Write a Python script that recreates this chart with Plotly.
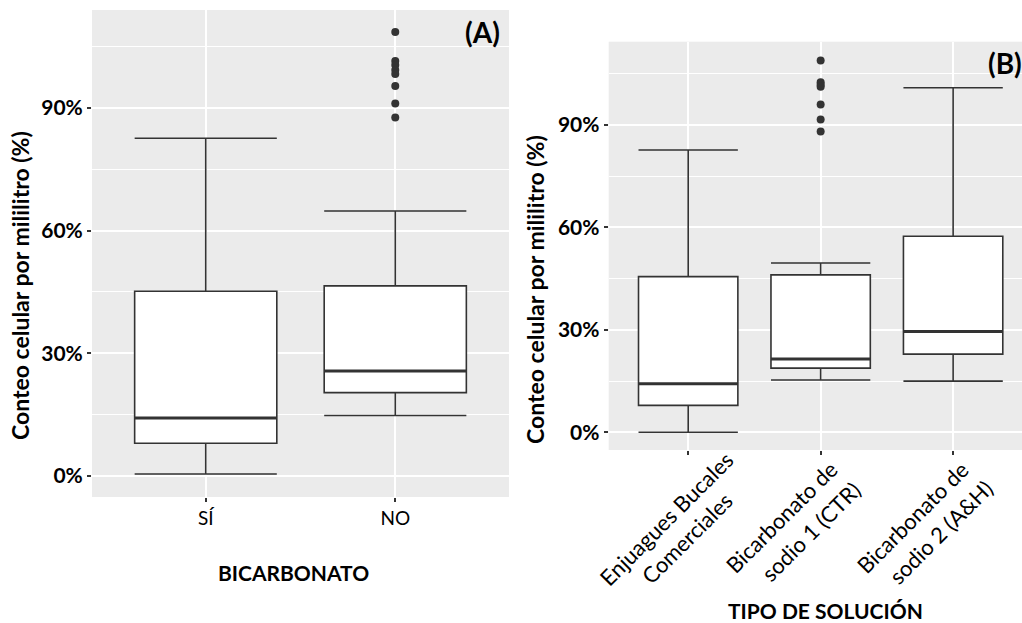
import plotly.graph_objects as go

W, H = 1022, 623

# ---------------- data (values in %) ----------------
cats_a = ["SÍ", "NO"]
a_low = [0.5, 14.8]
a_q1 = [8.0, 20.4]
a_med = [14.2, 25.7]
a_q3 = [45.2, 46.5]
a_high = [82.6, 64.8]
a_out_no = [108.6, 101.5, 100.5, 99.3, 98.3, 95.4, 91.1, 87.7]

cats_b = [["Enjuagues Bucales", "Comerciales"],
          ["Bicarbonato de", "sodio 1 (CTR)"],
          ["Bicarbonato de", "sodio 2 (A&H)"]]
b_low = [0.0, 15.3, 15.0]
b_q1 = [7.9, 18.8, 22.9]
b_med = [14.2, 21.5, 29.5]
b_q3 = [45.6, 46.1, 57.4]
b_high = [82.7, 49.6, 100.9]
b_out_ctr = [108.9, 102.5, 101.8, 101.2, 96.0, 91.6, 88.1]

y_ticks = [0, 30, 60, 90]
y_minor = [15, 45, 75, 105]

# ---------------- styling ----------------
FONT = "Lato"
LINE = "#333333"
BG = "#EBEBEB"
BOXW = 0.75


def px_x(x):
    return x / W


def px_y(y):
    return 1 - y / H


fig = go.Figure()


def add_panel(xa, ya, low, q1, med, q3, high):
    for i in range(len(med)):
        fig.add_trace(go.Box(
            x=[i], q1=[q1[i]], median=[med[i]], q3=[q3[i]],
            lowerfence=[low[i]], upperfence=[high[i]],
            width=BOXW, whiskerwidth=1, boxpoints=False,
            fillcolor="white", line=dict(color=LINE, width=1.6),
            xaxis=xa, yaxis=ya, showlegend=False, hoverinfo="skip"))
        fig.add_trace(go.Scatter(
            x=[i - BOXW / 2, i + BOXW / 2], y=[med[i], med[i]],
            mode="lines", line=dict(color=LINE, width=3),
            xaxis=xa, yaxis=ya, showlegend=False, hoverinfo="skip"))


add_panel("x", "y", a_low, a_q1, a_med, a_q3, a_high)
fig.add_trace(go.Scatter(x=[1] * len(a_out_no), y=a_out_no, mode="markers",
                         marker=dict(color=LINE, size=8), xaxis="x", yaxis="y",
                         showlegend=False, hoverinfo="skip"))
add_panel("x2", "y2", b_low, b_q1, b_med, b_q3, b_high)
fig.add_trace(go.Scatter(x=[1] * len(b_out_ctr), y=b_out_ctr, mode="markers",
                         marker=dict(color=LINE, size=8), xaxis="x2", yaxis="y2",
                         showlegend=False, hoverinfo="skip"))

tick_font_bold = dict(family=FONT, size=21, color="black", weight="bold")
tick_font = dict(family=FONT, size=19, color="black")

yaxis_common = dict(
    tickvals=y_ticks, ticktext=[f"{v}%" for v in y_ticks],
    showgrid=True, gridcolor="white", gridwidth=2,
    minor=dict(tickvals=y_minor, showgrid=True, gridcolor="white", gridwidth=1, ticks=""),
    ticks="outside", ticklen=4, tickcolor=LINE, tickwidth=1.5,
    tickfont=tick_font_bold, zeroline=False, showline=False, fixedrange=True,
    automargin=False,
)
xaxis_common = dict(
    showgrid=True, gridcolor="white", gridwidth=2, zeroline=False, showline=False,
    ticks="outside", ticklen=4, tickcolor=LINE, tickwidth=1.5, tickfont=tick_font,
    fixedrange=True, automargin=False,
)

fig.update_layout(
    width=W, height=H,
    margin=dict(l=0, r=0, t=0, b=0, autoexpand=False),
    paper_bgcolor="white", plot_bgcolor=BG,
    xaxis=dict(domain=[px_x(92), px_x(509)], range=[-0.6, 1.6],
               tickvals=[0, 1], ticktext=cats_a, anchor="y", **xaxis_common),
    yaxis=dict(domain=[px_y(497), px_y(10)], range=[-5.14, 113.97], anchor="x", **yaxis_common),
    xaxis2=dict(domain=[px_x(608.7), 1.0], range=[-0.6, 2.52],
                tickvals=[0, 1, 2], showticklabels=False, anchor="y2", **xaxis_common),
    yaxis2=dict(domain=[px_y(450), px_y(41.7)], range=[-5.18, 114.4], anchor="x2", **yaxis_common),
)

ytitle_font = dict(family=FONT, size=23, color="black", weight="bold")
xtitle_font = dict(family=FONT, size=21, color="black", weight="bold")
ann = [
    dict(text="Conteo celular por mililitro (%)", x=px_x(20), y=px_y(286), textangle=-90, font=ytitle_font),
    dict(text="Conteo celular por mililitro (%)", x=px_x(535), y=px_y(290), textangle=-90, font=ytitle_font),
    dict(text="BICARBONATO", x=px_x(293), y=px_y(572), font=xtitle_font),
    dict(text="TIPO DE SOLUCIÓN", x=px_x(825), y=px_y(610), font=xtitle_font),
]
for a in ann:
    fig.add_annotation(xref="paper", yref="paper", showarrow=False,
                       xanchor="center", yanchor="middle", **a)

# rotated two-line category labels for panel B (each line centred on its own position)
line_offsets = [[(-22, 518), (-2, 538)],
                [(-40, 517), (-10, 531)],
                [(-41, 517), (-13, 532)]]
for i, lines in enumerate(cats_b):
    for (dx, ypx), txt in zip(line_offsets[i], lines):
        fig.add_annotation(text=txt, xref="x2", yref="paper", x=i, y=px_y(ypx),
                           xshift=dx, textangle=-45, showarrow=False,
                           xanchor="center", yanchor="middle",
                           font=dict(family=FONT, size=22, color="black"))

label_font = dict(family=FONT, size=28, color="black", weight="bold")
fig.add_annotation(text="(A)", xref="paper", yref="paper", x=px_x(463), y=px_y(32),
                   xanchor="left", yanchor="middle", showarrow=False, font=label_font)
fig.add_annotation(text="(B)", xref="paper", yref="paper", x=px_x(986), y=px_y(63),
                   xanchor="left", yanchor="middle", showarrow=False, font=label_font)

fig.write_html("out.html", config={"displayModeBar": False},
               post_script="document.body.style.margin='0';")
